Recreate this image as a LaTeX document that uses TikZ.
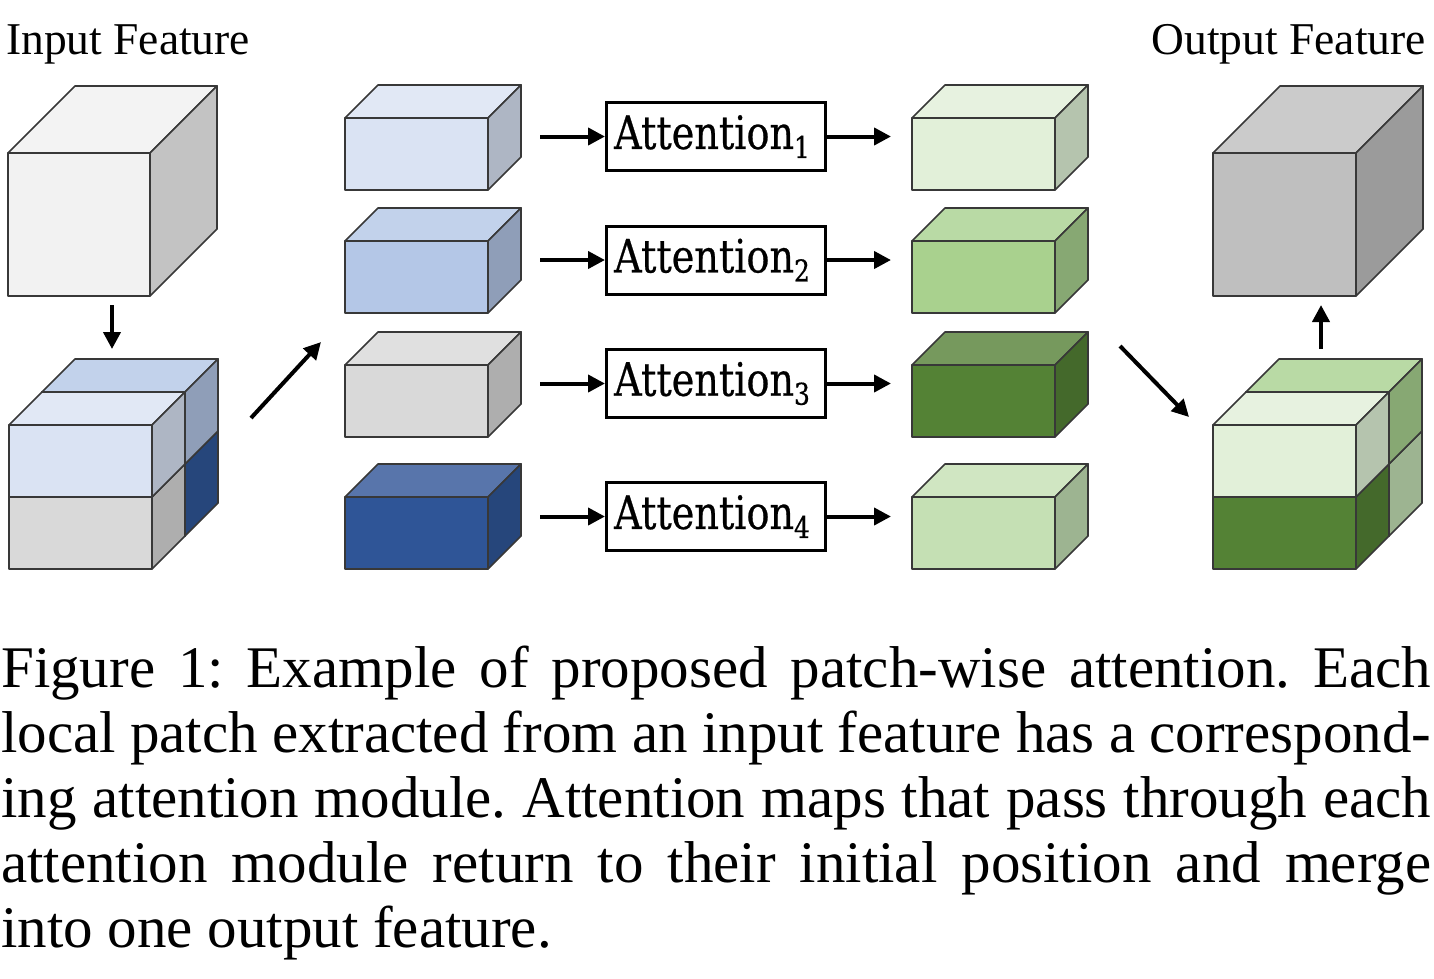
\documentclass[tikz,border=0pt]{standalone}
\usepackage{fontspec}
\setmainfont{Liberation Serif}
\newfontfamily\attfont[FakeStretch=0.83,FakeBold=0.5]{DejaVu Serif}
\usetikzlibrary{arrows.meta}
\frenchspacing

\definecolor{edgegray}{HTML}{383838}
\definecolor{inF}{HTML}{F2F2F2}\definecolor{inT}{HTML}{F3F3F3}\definecolor{inS}{HTML}{C3C3C3}
\definecolor{outF}{HTML}{BFBFBF}\definecolor{outT}{HTML}{CBCBCB}\definecolor{outS}{HTML}{9B9B9B}
\definecolor{boF}{HTML}{DAE3F3}\definecolor{boT}{HTML}{E1E8F5}\definecolor{boS}{HTML}{AEB6C4}
\definecolor{btF}{HTML}{B4C7E7}\definecolor{btT}{HTML}{C2D2EB}\definecolor{btS}{HTML}{8F9EB8}
\definecolor{grF}{HTML}{D9D9D9}\definecolor{grT}{HTML}{E0E0E0}\definecolor{grS}{HTML}{AEAEAE}
\definecolor{bfF}{HTML}{2F5597}\definecolor{bfT}{HTML}{5875AB}\definecolor{bfS}{HTML}{26467B}
\definecolor{goF}{HTML}{E2F0D9}\definecolor{goT}{HTML}{E7F2E0}\definecolor{goS}{HTML}{B5C4AE}
\definecolor{gtF}{HTML}{A9D18E}\definecolor{gtT}{HTML}{B9DAA5}\definecolor{gtS}{HTML}{87A873}
\definecolor{ghF}{HTML}{548235}\definecolor{ghT}{HTML}{76995D}\definecolor{ghS}{HTML}{44692B}
\definecolor{gfF}{HTML}{C5E0B4}\definecolor{gfT}{HTML}{D0E6C2}\definecolor{gfS}{HTML}{9DB491}

% #1 x, #2 y of front top-left, #3 width, #4 height, #5 depth, #6 front, #7 top, #8 side
\newcommand{\cuboid}[8]{%
  \filldraw[blockedge,fill=#6] (#1,#2) rectangle ++(#3,#4);
  \filldraw[blockedge,fill=#7] (#1,#2) -- ++(#5,-#5) -- ++(#3,0) -- ++(-#5,#5) -- cycle;
  \filldraw[blockedge,fill=#8] (#1+#3,#2) -- ++(#5,-#5) -- ++(0,#4) -- ++(-#5,#5) -- cycle;
}

\tikzset{
  blockedge/.style={draw=edgegray, line width=1.7pt, line join=round},
  attbox/.style={draw=black, line width=3pt, minimum width=219pt, minimum height=68pt,
    inner sep=0pt, font=\attfont\fontsize{46}{46}\selectfont},
  arr/.style={line width=4pt, -{Triangle[length=17pt,width=17pt]}},
  lab/.style={inner sep=0pt, font=\fontsize{45.5}{45.5}\selectfont},
}

\newcommand{\attsub}[1]{\raisebox{-9pt}{\fontsize{30}{30}\selectfont #1}}
\newcommand{\atttext}[1]{\hspace*{-8pt}\raisebox{-3pt}{Attention\attsub{#1}}}

\begin{document}
\begin{tikzpicture}[x=1pt,y=-1pt]
\useasboundingbox (0,0) rectangle (1434,978);

% labels
\node[lab, anchor=base west] (inlab) at (6,54) {Input Feature};
\node[lab, anchor=base east] (outlab) at (1426,54) {Output Feature};

% input cube
\cuboid{8}{153}{142}{143}{67}{inF}{inT}{inS}
% output cube
\cuboid{1213}{153}{143}{143}{67}{outF}{outT}{outS}

% split input cube
\cuboid{42}{464}{143}{72}{33}{bfF}{bfT}{bfS}
\cuboid{42}{392}{143}{72}{33}{btF}{btT}{btS}
\cuboid{9}{497}{143}{72}{33}{grF}{grT}{grS}
\cuboid{9}{425}{143}{72}{33}{boF}{boT}{boS}

% merged output cube
\cuboid{1246}{464}{143}{72}{33}{gfF}{gfT}{gfS}
\cuboid{1246}{392}{143}{72}{33}{gtF}{gtT}{gtS}
\cuboid{1213}{497}{143}{72}{33}{ghF}{ghT}{ghS}
\cuboid{1213}{425}{143}{72}{33}{goF}{goT}{goS}

% patches
\cuboid{345}{118}{143}{72}{33}{boF}{boT}{boS}
\cuboid{345}{241}{143}{72}{33}{btF}{btT}{btS}
\cuboid{345}{365}{143}{72}{33}{grF}{grT}{grS}
\cuboid{345}{497}{143}{72}{33}{bfF}{bfT}{bfS}

% attended patches
\cuboid{912}{118}{143}{72}{33}{goF}{goT}{goS}
\cuboid{912}{241}{143}{72}{33}{gtF}{gtT}{gtS}
\cuboid{912}{365}{143}{72}{33}{ghF}{ghT}{ghS}
\cuboid{912}{497}{143}{72}{33}{gfF}{gfT}{gfS}

% attention modules
\node[attbox] (att1) at (716,136.5) {\atttext{1}};
\node[attbox] (att2) at (716,260) {\atttext{2}};
\node[attbox] (att3) at (716,383.5) {\atttext{3}};
\node[attbox] (att4) at (716,516.5) {\atttext{4}};

\foreach \i/\yy in {1/136.5,2/260,3/383.5,4/516.5}{
  \coordinate (in\i) at (540,\yy);
  \coordinate (out\i) at (891,\yy);
  \draw[arr] (in\i) -- (att\i.west);
  \draw[arr] (att\i.east) -- (out\i);
}

% flow arrows
\coordinate (dA) at (112,305);
\coordinate (dB) at (112,349);
\draw[arr] (dA) -- (dB);
\coordinate (uA) at (1321,349);
\coordinate (uB) at (1321,305);
\draw[arr] (uA) -- (uB);
\coordinate (sA) at (251,418);
\coordinate (sB) at (321,342);
\draw[arr] (sA) -- (sB);
\coordinate (mA) at (1120,346);
\coordinate (mB) at (1189,417);
\draw[arr] (mA) -- (mB);

% caption
\node[anchor=base west, inner sep=0pt] (caption) at (1,687) {\parbox[t]{1430pt}{\fontsize{59}{65}\selectfont
\hbox to \linewidth{Figure 1: Example of proposed patch-wise attention. Each}
\hbox to \linewidth{local patch extracted from an input feature has a correspond-}
\hbox to \linewidth{ing attention module. Attention maps that pass through each}
\hbox to \linewidth{attention module return to their initial position and merge}
\hbox{into one output feature.}}};
\end{tikzpicture}
\end{document}
